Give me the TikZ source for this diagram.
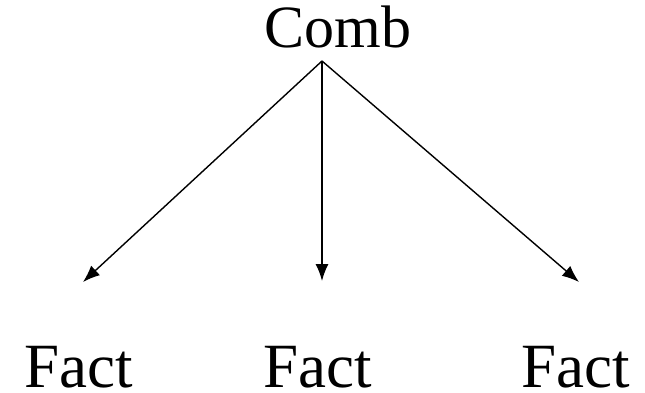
\documentclass[tikz,border=0pt]{standalone}
\usepackage{fontspec}
\setmainfont{Liberation Serif}
\usetikzlibrary{arrows.meta}

\begin{document}
\begin{tikzpicture}[x=1pt,y=-1pt,->,>={Latex[length=17pt,width=13pt]},line width=1.4pt,word/.style={anchor=base,inner sep=0pt,text depth=0pt,font=\fontsize{60}{72}\selectfont},leaf/.style={word,font=\fontsize{63}{76}\selectfont}]
  \useasboundingbox (0,0) rectangle (645,392);
  \node[word] (comb) at (338,47) {Comb};
  \node[leaf] (fact1) at (79,387) {Fact};
  \node[leaf] (fact2) at (318,387) {Fact};
  \node[leaf] (fact3) at (576,387) {Fact};

  \coordinate (root) at (322,61);
  \coordinate (tip1) at (83,282);
  \coordinate (tip2) at (322,281);
  \coordinate (tip3) at (579,282);

\path
  (root) edge (tip1)
  (root) edge (tip2)
  (root) edge (tip3)
;
\end{tikzpicture}
\end{document}
